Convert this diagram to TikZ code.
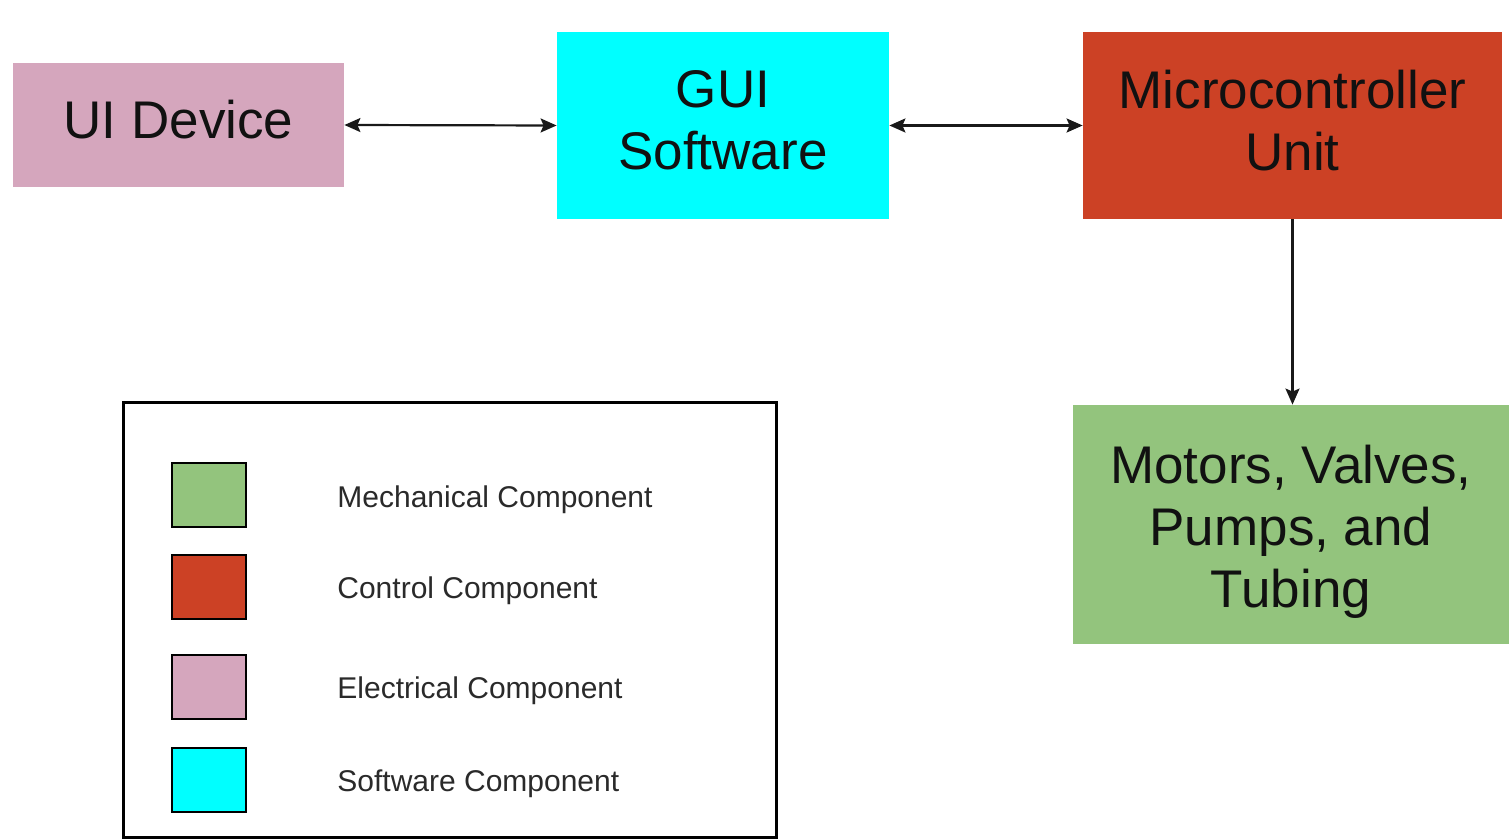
\documentclass[tikz,border=0pt]{standalone}
\usepackage{fontspec}
\setmainfont{Liberation Sans}
\usetikzlibrary{arrows.meta}
\definecolor{elecpink}{HTML}{D5A6BD}
\definecolor{softcyan}{HTML}{00FFFF}
\definecolor{ctrlred}{HTML}{CC4125}
\definecolor{mechgreen}{HTML}{93C47D}
\definecolor{blocktext}{HTML}{111111}
\definecolor{keytext}{HTML}{2A2A2A}
\tikzset{
  block/.style={rectangle, inner sep=0pt},
  blocklabel/.style={inner sep=0pt, align=center, text=blocktext,
    font=\fontsize{26.5pt}{31pt}\selectfont},
  swatch/.style={rectangle, draw=black, line width=1pt, inner sep=0pt,
    minimum width=37pt, minimum height=32pt},
  keylabel/.style={anchor=west, inner sep=0pt, text=keytext,
    font=\fontsize{15pt}{18pt}\selectfont},
  link/.style={line width=1.1pt, draw=black!90},
  tip/.tip={Stealth[length=8pt, width=7pt, inset=1.5pt]}
}
\begin{document}
\begin{tikzpicture}[x=0.5pt, y=-0.5pt]
\useasboundingbox (0,0) rectangle (1509,839);

% main blocks
\node[block, fill=elecpink, minimum width=165.5pt, minimum height=62pt] (ui) at (178.5,125) {};
\node[block, fill=softcyan, minimum width=166pt, minimum height=93.5pt] (gui) at (723,125.5) {};
\node[block, fill=ctrlred, minimum width=209.5pt, minimum height=93.5pt] (mcu) at (1292.5,125.5) {};
\node[block, fill=mechgreen, minimum width=218pt, minimum height=119.5pt] (mot) at (1291,524.5) {};

% block texts
\node[blocklabel, yshift=2.5pt] (uit) at (ui.center) {UI Device};
\node[blocklabel, yshift=2.5pt] (guit) at (gui.center) {GUI\\Software};
\node[blocklabel, yshift=2.5pt] (mcut) at (mcu.center) {Microcontroller\\Unit};
\node[blocklabel, yshift=-3.5pt] (mott) at (mot.center) {Motors, Valves,\\Pumps, and\\Tubing};

% connectors
\draw[link, tip-tip] (ui.east) -- (gui.west);
\draw[link, tip-tip] (gui.east) -- (mcu.west);
\draw[link, -tip] (mcu.south) -- (mcu.south |- mot.north);

% legend
\node[rectangle, draw=black, line width=1.5pt, minimum width=326.5pt, minimum height=217pt] (key) at (449.5,620) {};
\node[swatch, fill=mechgreen] (s1) at (209,495) {};
\node[swatch, fill=ctrlred] (s2) at (209,587) {};
\node[swatch, fill=elecpink] (s3) at (209,687) {};
\node[swatch, fill=softcyan] (s4) at (209,779.5) {};
\node[keylabel] (l1) at (337,500) {Mechanical Component};
\node[keylabel] (l2) at (337,591) {Control Component};
\node[keylabel] (l3) at (337,691) {Electrical Component};
\node[keylabel] (l4) at (337,784) {Software Component};
\end{tikzpicture}
\end{document}
